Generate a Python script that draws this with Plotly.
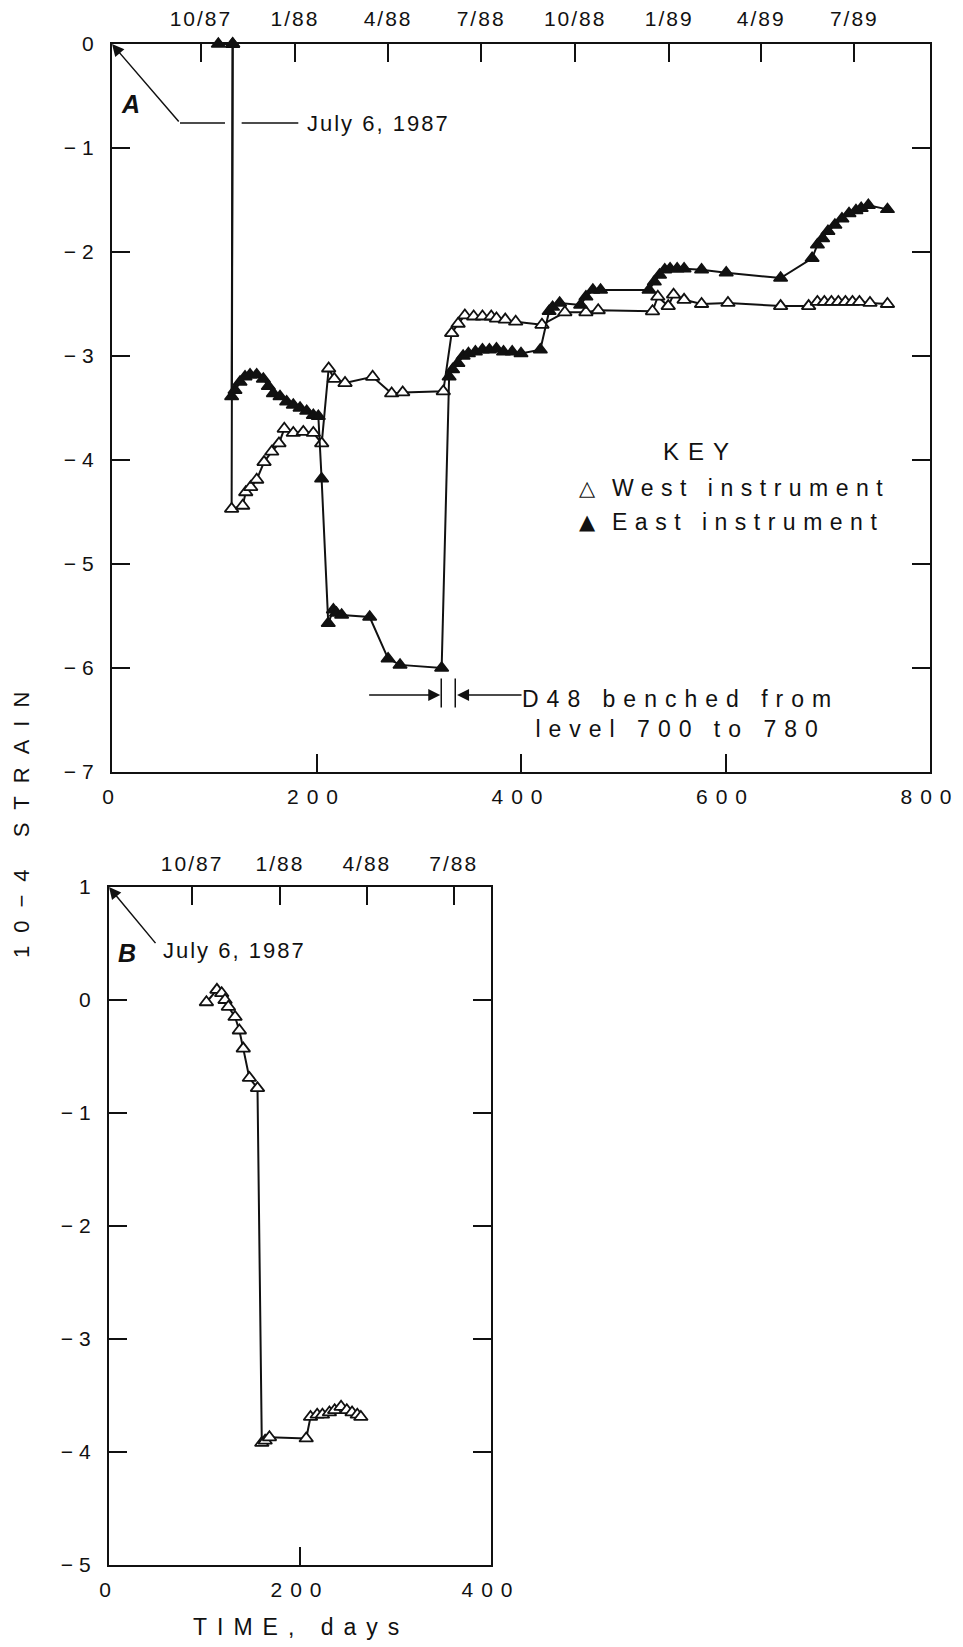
import plotly.graph_objects as go

# ---------------- data (days since July 6, 1987 ; strain x 1e-4) ----------------
west_a_days = [118, 117, 127.8, 130.8, 135.6, 141.5, 148.7, 156.2, 163.3, 168.5, 177.3, 187.1,
               196.9, 205.1, 211.9, 217.4, 227.9, 254.9, 273.5, 284.3, 324, 332.2, 338.5,
               345.1, 353.7, 362.3, 370.9, 376, 384.6, 394.8, 420.5, 442.9, 463.5, 475.5,
               528.6, 533.8, 544, 549.2, 559.5, 576.6, 602.4, 653.9, 681.3, 689.9, 696.7,
               703.6, 710.4, 717.3, 724.2, 731, 741.3, 758.4]
west_a_strain = [0, -4.47, -4.44, -4.31, -4.26, -4.19, -4.02, -3.92, -3.84, -3.70, -3.74, -3.73,
                 -3.74, -3.84, -3.12, -3.22, -3.26, -3.20, -3.36, -3.35, -3.34, -2.78, -2.69,
                 -2.61, -2.62, -2.62, -2.62, -2.64, -2.65, -2.67, -2.70, -2.58, -2.58, -2.56,
                 -2.57, -2.43, -2.52, -2.41, -2.46, -2.50, -2.49, -2.52, -2.52, -2.48, -2.48,
                 -2.48, -2.48, -2.48, -2.48, -2.48, -2.49, -2.50]

east_a_days = [104, 118, 117, 120.3, 125.2, 130.1, 135, 141.5, 148, 152.9, 157.8, 164.3, 170.8,
               177.3, 183.9, 190.4, 196.9, 201.8, 205, 211.5, 216.5, 219.5, 224.6, 252, 270,
               281.7, 322.4, 329.7, 333.1, 338.3, 343.4, 348.6, 355.4, 362.3, 369.1, 376,
               382.9, 391.4, 400, 418.9, 427.5, 430.9, 437.8, 458.3, 463.5, 470.3, 477.8,
               525.2, 530.4, 535.5, 540.6, 545.8, 552.7, 559.5, 576.6, 600.7, 653.9, 684.7,
               689.9, 695, 700.2, 707, 713.9, 720.8, 727.6, 732.7, 739.7, 758.4]
east_a_strain = [0, 0, -3.39, -3.33, -3.25, -3.20, -3.18, -3.18, -3.22, -3.29, -3.36, -3.39, -3.44,
                 -3.47, -3.50, -3.53, -3.57, -3.58, -4.18, -5.57, -5.44, -5.47, -5.49, -5.51, -5.91,
                 -5.97, -6.00, -3.20, -3.13, -3.07, -3.00, -2.975, -2.96, -2.94, -2.94, -2.93,
                 -2.96, -2.96, -2.975, -2.94, -2.57, -2.53, -2.49, -2.51, -2.43, -2.365, -2.365,
                 -2.365, -2.285, -2.22, -2.17, -2.16, -2.16, -2.16, -2.17, -2.20, -2.25, -2.06,
                 -1.93, -1.87, -1.80, -1.74, -1.68, -1.63, -1.60, -1.58, -1.55, -1.59]

b_days = [102, 113, 118, 121.5, 125, 132, 136.5, 140.6, 147, 155.5, 160, 163.5, 168, 206.5,
          211, 218, 223.5, 230.8, 236.3, 243, 249, 254.5, 260, 263.7]
b_strain = [-0.02, 0.09, 0.06, 0.0, -0.06, -0.15, -0.27, -0.43, -0.69, -0.78, -3.92, -3.90,
            -3.87, -3.88, -3.69, -3.67, -3.67, -3.65, -3.63, -3.60, -3.63, -3.65, -3.67, -3.69]

a_x_ticks = [0, 200, 400, 600, 800]
a_y_ticks = [0, -1, -2, -3, -4, -5, -6, -7]
a_date_days = [87, 179, 270, 361, 453, 545, 635, 726]
a_date_labels = ["10/87", "1/88", "4/88", "7/88", "10/88", "1/89", "4/89", "7/89"]

b_x_ticks = [0, 200, 400]
b_y_ticks = [1, 0, -1, -2, -3, -4, -5]
b_date_days = [87, 179, 270, 361]
b_date_labels = ["10/87", "1/88", "4/88", "7/88"]

# ---------------- layout helpers ----------------
W, H = 963, 1647
A_L, A_R, A_T, A_B = 112, 930, 44, 772
B_L, B_R, B_T, B_B = 109, 491, 887, 1565
FONT = "Liberation Sans, Arial, Helvetica, sans-serif"
BLACK = "#111111"


def xd(l, r):
    return [l / W, r / W]


def yd(t, b):
    return [1 - b / H, 1 - t / H]


def sp(t, ls):
    return "<span style='letter-spacing:%gpx'>%s</span>" % (ls, t)


def ylab(v):
    return sp(("−%d" % abs(v)) if v < 0 else str(v), 6)


fig = go.Figure()

common_line = dict(color=BLACK, width=2)
fig.add_trace(go.Scatter(x=west_a_days, y=west_a_strain, mode="lines+markers", name="West instrument",
                         line=common_line, cliponaxis=False,
                         marker=dict(symbol="triangle-up", size=12, color="white",
                                     line=dict(color=BLACK, width=1.8)),
                         xaxis="x", yaxis="y", showlegend=False))
fig.add_trace(go.Scatter(x=east_a_days, y=east_a_strain, mode="lines+markers", name="East instrument",
                         line=common_line, cliponaxis=False,
                         marker=dict(symbol="triangle-up", size=12, color=BLACK,
                                     line=dict(color=BLACK, width=1.5)),
                         xaxis="x", yaxis="y", showlegend=False))
fig.add_trace(go.Scatter(x=b_days, y=b_strain, mode="lines+markers", name="B",
                         line=common_line, cliponaxis=False,
                         marker=dict(symbol="triangle-up", size=12, color="white",
                                     line=dict(color=BLACK, width=1.8)),
                         xaxis="x3", yaxis="y2", showlegend=False))
# empty traces so the date (top) axes get their subplots
fig.add_trace(go.Scatter(x=[], y=[], xaxis="x2", yaxis="y", showlegend=False, hoverinfo="skip"))
fig.add_trace(go.Scatter(x=[], y=[], xaxis="x4", yaxis="y2", showlegend=False, hoverinfo="skip"))

axis_common = dict(showline=True, linecolor=BLACK, linewidth=2, ticks="inside", ticklen=18,
                   tickwidth=1.8, tickcolor=BLACK, showgrid=False, zeroline=False, automargin=False,
                   tickfont=dict(family=FONT, size=21, color=BLACK))

fig.update_layout(
    width=W, height=H, margin=dict(l=0, r=0, t=0, b=0, pad=0),
    paper_bgcolor="white", plot_bgcolor="white",
    font=dict(family=FONT, color=BLACK),
    xaxis=dict(axis_common, domain=xd(A_L, A_R), range=[0, 800], anchor="y", mirror=True,
               tickmode="array", tickvals=a_x_ticks, ticktext=[sp(str(v), 8) for v in a_x_ticks],
               ticklabelstandoff=5),
    xaxis2=dict(axis_common, domain=xd(A_L, A_R), range=[0, 800], anchor="y", overlaying="x",
                side="top", showline=False, tickmode="array", tickvals=a_date_days,
                ticktext=[sp(t, 2) for t in a_date_labels], ticklabelstandoff=13),
    yaxis=dict(axis_common, domain=yd(A_T, A_B), range=[-7, 0], anchor="x", mirror="ticks",
               tickmode="array", tickvals=a_y_ticks, ticktext=[ylab(v) for v in a_y_ticks],
               ticklabelstandoff=6),
    xaxis3=dict(axis_common, domain=xd(B_L, B_R), range=[0, 400], anchor="y2", mirror=True,
                tickmode="array", tickvals=b_x_ticks, ticktext=[sp(str(v), 8) for v in b_x_ticks],
                ticklabelstandoff=5),
    xaxis4=dict(axis_common, domain=xd(B_L, B_R), range=[0, 400], anchor="y2", overlaying="x3",
                side="top", showline=False, tickmode="array", tickvals=b_date_days,
                ticktext=[sp(t, 2) for t in b_date_labels], ticklabelstandoff=11),
    yaxis2=dict(axis_common, domain=yd(B_T, B_B), range=[-5, 1], anchor="x3", mirror="ticks",
                tickmode="array", tickvals=b_y_ticks, ticktext=[ylab(v) for v in b_y_ticks],
                ticklabelstandoff=6),
)

ann = []
shapes = []
txt = dict(family=FONT, size=23, color=BLACK)

# panel letters
ann.append(dict(x=17.6, y=-0.58, xref="x", yref="y", text="<b><i>A</i></b>", showarrow=False,
                font=dict(family=FONT, size=25, color=BLACK)))
ann.append(dict(x=18.5, y=0.42, xref="x3", yref="y2", text="<b><i>B</i></b>", showarrow=False,
                font=dict(family=FONT, size=25, color=BLACK)))

# July 6, 1987 (A)
ann.append(dict(x=0, y=0, xref="x", yref="y", ax=66.5, ay=-0.76, axref="x", ayref="y", text="",
                showarrow=True, arrowhead=2, arrowsize=1.6, arrowwidth=1.5, arrowcolor=BLACK))
shapes.append(dict(type="line", xref="x", yref="y", x0=66.5, x1=110.5, y0=-0.76, y1=-0.76,
                   line=dict(color=BLACK, width=1.5)))
shapes.append(dict(type="line", xref="x", yref="y", x0=126.8, x1=182.2, y0=-0.76, y1=-0.76,
                   line=dict(color=BLACK, width=1.5)))
ann.append(dict(x=189, y=-0.76, xref="x", yref="y", text=sp("July 6, 1987", 2), showarrow=False,
                xanchor="left", yanchor="middle", font=dict(family=FONT, size=22, color=BLACK)))

# July 6, 1987 (B)
ann.append(dict(x=0, y=1, xref="x3", yref="y2", ax=50, ay=0.49, axref="x3", ayref="y2", text="",
                showarrow=True, arrowhead=2, arrowsize=1.6, arrowwidth=1.5, arrowcolor=BLACK))
ann.append(dict(x=54, y=0.44, xref="x3", yref="y2", text=sp("July 6, 1987", 2), showarrow=False,
                xanchor="left", yanchor="middle", font=dict(family=FONT, size=22, color=BLACK)))

# D48 benched annotation
ann.append(dict(x=321, y=-6.26, xref="x", yref="y", ax=250, ay=-6.26, axref="x", ayref="y", text="",
                showarrow=True, arrowhead=2, arrowsize=1.6, arrowwidth=1.5, arrowcolor=BLACK))
ann.append(dict(x=337.5, y=-6.26, xref="x", yref="y", ax=402, ay=-6.26, axref="x", ayref="y", text="",
                showarrow=True, arrowhead=2, arrowsize=1.6, arrowwidth=1.5, arrowcolor=BLACK))
for xv in (322, 335.7):
    shapes.append(dict(type="line", xref="x", yref="y", x0=xv, x1=xv, y0=-6.10, y1=-6.38,
                       line=dict(color=BLACK, width=1.5)))
ann.append(dict(x=556, y=-6.44, xref="x", yref="y",
                text=sp("D48 benched from", 8) + "<br>" + sp("level 700 to 780", 8),
                showarrow=False, align="center", xanchor="center", yanchor="middle", font=txt))

# key
ann.append(dict(x=576, y=-3.92, xref="x", yref="y", text=sp("KEY", 9), showarrow=False,
                font=dict(family=FONT, size=24, color=BLACK)))
ann.append(dict(x=465, y=-4.27, xref="x", yref="y", text="△", showarrow=False,
                font=dict(family="DejaVu Sans", size=21, color=BLACK)))
ann.append(dict(x=465, y=-4.60, xref="x", yref="y", text="▲", showarrow=False,
                font=dict(family="DejaVu Sans", size=21, color=BLACK)))
ann.append(dict(x=487, y=-4.27, xref="x", yref="y", text=sp("West instrument", 7.5), showarrow=False,
                xanchor="left", font=txt))
ann.append(dict(x=487, y=-4.60, xref="x", yref="y", text=sp("East instrument", 7.5), showarrow=False,
                xanchor="left", font=txt))

# axis titles
ann.append(dict(x=21 / W, y=1 - 819 / H, xref="paper", yref="paper", text=sp("10−4 STRAIN", 13),
                textangle=-90, showarrow=False, xanchor="center", yanchor="middle",
                font=dict(family=FONT, size=22, color=BLACK)))
ann.append(dict(x=301 / W, y=1 - 1627 / H, xref="paper", yref="paper", text=sp("TIME, days", 10),
                showarrow=False, xanchor="center", yanchor="middle",
                font=dict(family=FONT, size=23, color=BLACK)))

fig.update_layout(annotations=ann, shapes=shapes)
fig.write_html("out.html")
